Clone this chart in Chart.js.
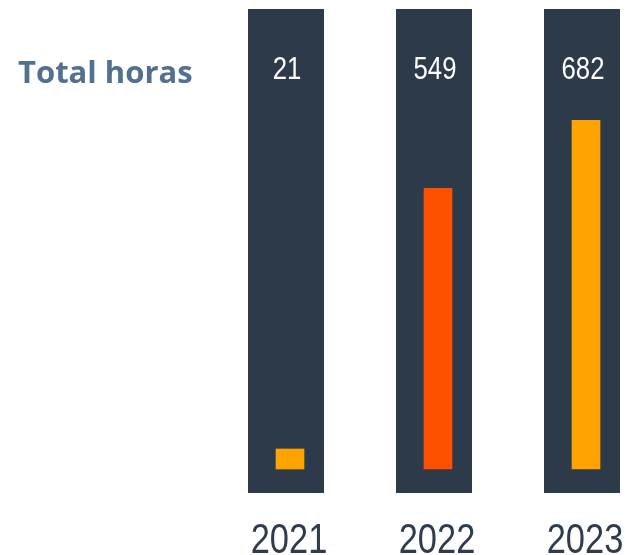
<!DOCTYPE html>
<html>
<head>
<meta charset="utf-8">
<script src="https://cdn.jsdelivr.net/npm/chart.js@4.4.1/dist/chart.umd.min.js"></script>
<style>
  html, body { margin: 0; padding: 0; background: #fff; }
  #wrap { width: 626px; height: 555px; }
</style>
</head>
<body>
<div id="wrap"><canvas id="horasChart"></canvas></div>
<script>
const years = ["2021", "2022", "2023"];
const totalHoras = [21, 549, 682];
const barColors = ["#ffa300", "#ff5000", "#ffa300"];
const rowTitle = "Total horas";

const panelColor = "#2d3a4a";
const narrowFont = "'Liberation Sans', Arial, sans-serif";

// draw narrow text (Arial Narrow look) by squeezing regular Liberation Sans
function narrowText(ctx, text, x, y, size, squeeze) {
  ctx.save();
  ctx.translate(x, y);
  ctx.scale(squeeze, 1);
  ctx.font = size + "px " + narrowFont;
  ctx.textAlign = "center";
  ctx.textBaseline = "alphabetic";
  ctx.fillText(text, 0, 0);
  ctx.restore();
}

// dark column behind each year, values on top, years below
const panelsPlugin = {
  id: "panels",
  beforeDatasetsDraw(chart) {
    const { ctx, chartArea, scales } = chart;
    ctx.save();
    ctx.fillStyle = panelColor;
    years.forEach((y, i) => {
      const x = scales.x.getPixelForValue(i) - 4;
      ctx.fillRect(x - 38, chartArea.top, 76, chartArea.bottom - chartArea.top + 24);
    });
    ctx.restore();
  },
  afterDatasetsDraw(chart) {
    const { ctx, chartArea, scales } = chart;
    ctx.save();
    ctx.fillStyle = "#ffffff";
    totalHoras.forEach((v, i) => {
      const x = scales.x.getPixelForValue(i);
      narrowText(ctx, String(v), x - 3, chartArea.top + 70, 31, 0.83);
    });
    ctx.fillStyle = "#2e3c4c";
    years.forEach((y, i) => {
      const x = scales.x.getPixelForValue(i);
      narrowText(ctx, y, x - 1, chartArea.bottom + 84, 42, 0.82);
    });
    ctx.fillStyle = "#52708f";
    ctx.font = "bold 31px 'Open Sans', sans-serif";
    ctx.textAlign = "left";
    ctx.textBaseline = "alphabetic";
    ctx.fillText(rowTitle, 18, chartArea.top + 74);
    ctx.restore();
  }
};

new Chart(document.getElementById("horasChart"), {
  type: "bar",
  data: {
    labels: years,
    datasets: [{
      data: totalHoras,
      backgroundColor: barColors,
      barThickness: 28,
      minBarLength: 20,
      clip: false
    }]
  },
  options: {
    responsive: true,
    maintainAspectRatio: false,
    animation: false,
    layout: { padding: { top: 9, left: 290, right: 40, bottom: 86 } },
    plugins: {
      legend: { display: false },
      tooltip: { enabled: false }
    },
    scales: {
      x: {
        offset: false,
        grid: { display: false, drawTicks: false },
        border: { display: false },
        ticks: { display: false },
        afterFit(scale) {
          scale.paddingLeft = 0;
          scale.paddingRight = 0;
        }
      },
      y: {
        display: false,
        min: 0,
        max: 900
      }
    }
  },
  plugins: [panelsPlugin]
});
</script>
</body>
</html>
